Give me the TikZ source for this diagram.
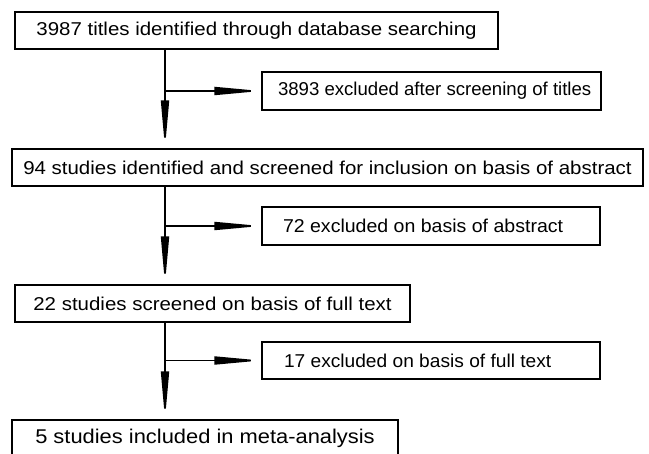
\documentclass[tikz,border=0pt]{standalone}
\usepackage{fontspec}
\setmainfont[FakeStretch=1.1]{Liberation Sans}
\usetikzlibrary{arrows.meta}
\begin{document}
\begin{tikzpicture}[x=1pt,y=-1pt,
  box/.style={draw, line width=1.4pt, minimum height=37pt, inner sep=0pt,
    font=\fontsize{18.6}{22}\selectfont, anchor=center},
  lbox/.style={box, inner xsep=4pt},
  conn/.style={line width=1.8pt},
  arr/.style={conn, -{Triangle[length=48pt,width=8pt]}},
  harr/.style={conn, -{Triangle[length=47pt,width=8pt]}}]
\useasboundingbox[fill=white] (0,0) rectangle (649,454);
\node[box, minimum width=483pt] (b1) at (256.5,30.5) {3987 titles identified through database searching};
\node[lbox, minimum height=38pt] (e1) at (431.5,91) {\makebox[331pt][l]{\hspace*{12pt}\addfontfeature{FakeStretch=1.0}3893 excluded after screening of titles}};
\node[box, minimum width=631pt] (b2) at (327.5,167.5) {94 studies identified and screened for inclusion on basis of abstract};
\node[lbox, minimum height=38pt] (e2) at (431,226) {\makebox[330pt][l]{\hspace*{17pt}\addfontfeature{FakeStretch=1.05}72 excluded on basis of abstract}};
\node[box, minimum width=395pt] (b3) at (212.5,303.5) {22 studies screened on basis of full text};
\node[lbox] (e3) at (431,360.5) {\makebox[330pt][l]{\hspace*{18pt}\addfontfeature{FakeStretch=1.03}17 excluded on basis of full text}};
\node[box, minimum width=386pt, font=\fontsize{19.9}{23}\selectfont] (b4) at (205,438.5) {5 studies included in meta-analysis};
\coordinate (spine) at (165,0);
\draw[arr] (b1.south -| spine) -- (b2.north -| spine);
\draw[harr] (e1.west -| spine) -- (e1.west);
\draw[arr] (b2.south -| spine) -- (b3.north -| spine);
\draw[harr] (e2.west -| spine) -- (e2.west);
\draw[arr] (b3.south -| spine) -- (b4.north -| spine);
\draw[harr] (e3.west -| spine) -- (e3.west);
\end{tikzpicture}
\end{document}
